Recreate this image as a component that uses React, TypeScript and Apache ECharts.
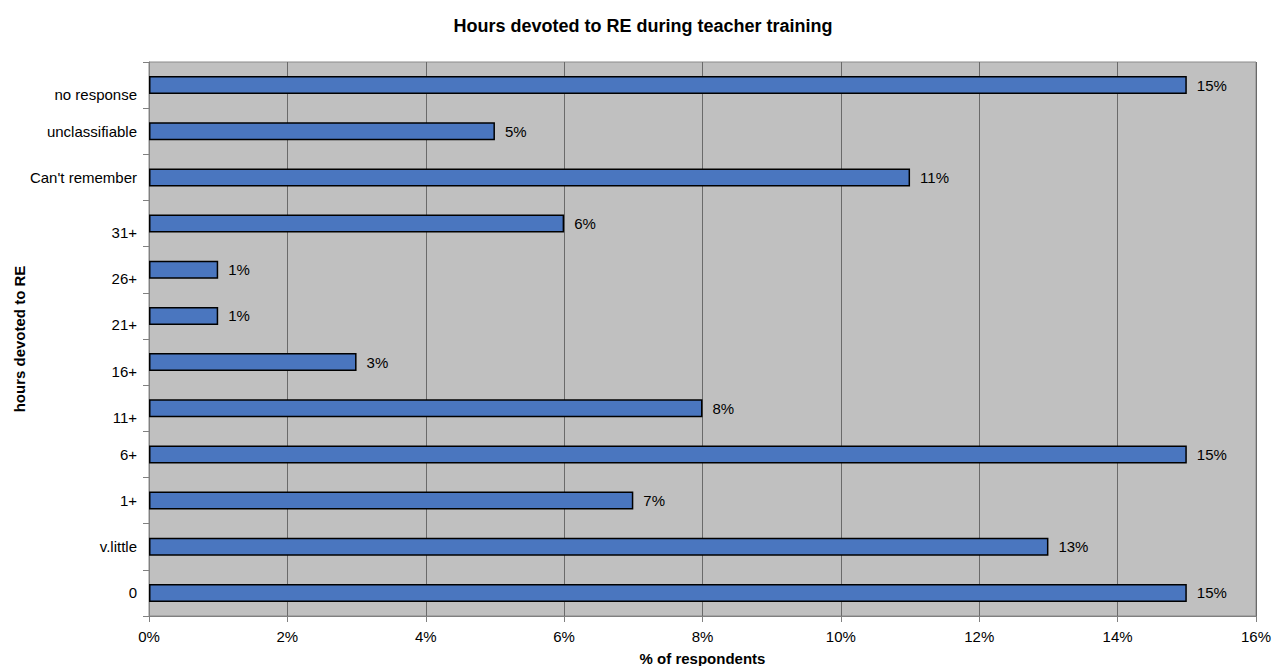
import React, { useEffect, useRef } from "react";
import * as echarts from "echarts";

const categories = ["0", "v.little", "1+", "6+", "11+", "16+", "21+", "26+", "31+", "Can't remember", "unclassifiable", "no response"];
const values = [15, 13, 7, 15, 8, 3, 1, 1, 6, 11, 5, 15];
const xTicks = [0, 2, 4, 6, 8, 10, 12, 14, 16];

export default function App() {
  const ref = useRef<HTMLDivElement>(null);
  useEffect(() => {
    const chart = echarts.init(ref.current!, null, { renderer: "svg" });
    const font = "Liberation Sans, Arial, sans-serif";
    // labels the original renderer drew slightly below their bars
    const droppedLabels = new Set(["11+", "16+", "21+", "26+", "31+", "no response"]);
    chart.setOption({
      animation: false,
      backgroundColor: "#ffffff",
      textStyle: { fontFamily: font },
      title: {
        text: "Hours devoted to RE during teacher training",
        left: 638,
        textAlign: "center",
        top: 12,
        textStyle: { fontSize: 18, fontWeight: "bold", color: "#000", fontFamily: font },
      },
      grid: {
        left: 149, right: 21, top: 62, bottom: 50,
        outerBoundsMode: "none",
        containLabel: false,
        show: true, backgroundColor: "#c0c0c0", borderColor: "#8a8a8a", borderWidth: 1,
      },
      xAxis: {
        type: "value",
        min: xTicks[0],
        max: xTicks[xTicks.length - 1],
        interval: 2,
        name: "% of respondents",
        nameLocation: "middle",
        nameGap: 35,
        nameMoveOverlap: false,
        nameTextStyle: { fontSize: 15, fontWeight: "bold", color: "#000", fontFamily: font },
        axisLine: { show: true, lineStyle: { color: "#808080", width: 1 } },
        axisTick: { show: true, length: 6, lineStyle: { color: "#808080" } },
        axisLabel: { fontSize: 15, color: "#000", margin: 13, formatter: (v: number) => v + "%", fontFamily: font },
        splitLine: { show: true, lineStyle: { color: "#6a6a6a", width: 1 } },
      },
      yAxis: {
        type: "category",
        data: categories,
        name: "hours devoted to RE",
        nameLocation: "middle",
        nameGap: 122,
        nameMoveOverlap: false,
        nameTextStyle: { fontSize: 15, fontWeight: "bold", color: "#000", fontFamily: font },
        axisLine: { show: true, lineStyle: { color: "#808080", width: 1 } },
        axisTick: { show: true, length: 6, lineStyle: { color: "#808080" } },
        axisLabel: {
          fontSize: 15,
          color: "#000",
          margin: 12,
          fontFamily: font,
          formatter: (v: string) => (droppedLabels.has(v) ? "{low|" + v + "}" : "{n|" + v + "}"),
          rich: {
            n: { fontSize: 15, color: "#000", fontFamily: font },
            low: { fontSize: 15, color: "#000", fontFamily: font, padding: [18, 0, 0, 0] },
          },
        },
        splitLine: { show: false },
      },
      series: [
        {
          type: "bar",
          data: values,
          barWidth: 18,
          itemStyle: { color: "#4a76bf", borderColor: "#000", borderWidth: 1.5 },
          label: { show: true, position: "right", distance: 10, formatter: (p: any) => p.value + "%", fontSize: 15, color: "#000", fontFamily: font },
        },
      ],
    });
    return () => chart.dispose();
  }, []);
  return <div ref={ref} style={{ position: "fixed", left: 0, top: 0, width: 1277, height: 666 }} />;
}
